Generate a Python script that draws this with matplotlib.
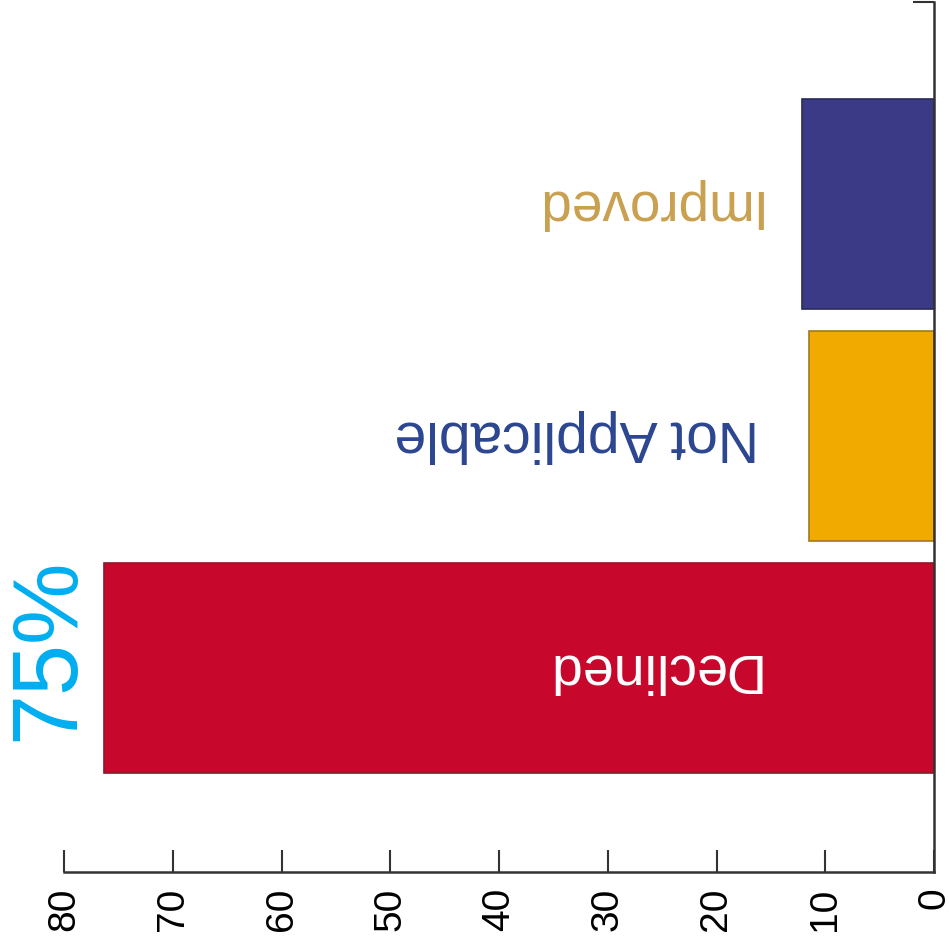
import matplotlib
matplotlib.use("Agg")
import matplotlib.pyplot as plt

# values, bottom to top
categories = ["Declined", "Not Applicable", "Improved"]
values = [76.3, 11.5, 12.1]
bar_colors = ["#c8072d", "#f0aa00", "#3b3a86"]
edge_colors = ["#8a1a2a", "#a07a20", "#2a2a5a"]
label_colors = ["#ffffff", "#2b4590", "#c9a04e"]
label_sizes = [40, 41, 39.5]
xticks = [0, 10, 20, 30, 40, 50, 60, 70, 80]
highlight = "75%"

plt.rcParams['font.family'] = ['Liberation Sans', 'DejaVu Sans']

fig = plt.figure(figsize=(9.49, 9.46), dpi=100)
ax = fig.add_axes([64/949, 74/946, 870/949, 870/946])

ypos = list(range(len(categories)))
ax.barh(ypos, values, height=0.905, color=bar_colors, edgecolor=edge_colors, linewidth=1.2, zorder=2)

for y, name, c, fs in zip(ypos, categories, label_colors, label_sizes):
    ax.text(16.1, y, name, rotation=180, ha='right', va='center',
            fontsize=fs, color=c, zorder=3)

ax.text(81.4, 0.08, highlight, rotation=90, ha='center', va='center',
        fontsize=66, color="#00aeef", clip_on=False)

ax.set_xlim(80, 0)
ax.set_ylim(-0.879, 2.871)
ax.set_xticks(xticks)
ax.set_xticklabels([str(t) for t in xticks], rotation=90, fontsize=28)
ax.tick_params(axis='x', direction='in', length=16, width=1.5, color='#333333', pad=11)

ax.yaxis.tick_right()
ax.set_yticks([2.871])
ax.set_yticklabels([])
ax.tick_params(axis='y', direction='in', length=15, width=1.5, color='#333333')

ax.spines['top'].set_visible(False)
ax.spines['left'].set_visible(False)
for s in ['bottom', 'right']:
    ax.spines[s].set_linewidth(1.8)
    ax.spines[s].set_color('#333333')

fig.savefig("out.png", dpi=100)
